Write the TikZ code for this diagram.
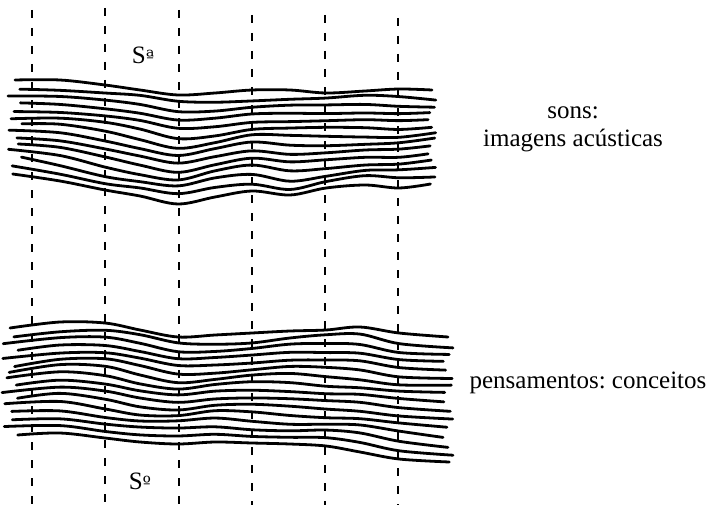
\documentclass[tikz,border=0pt]{standalone}
\usepackage{fontspec}
\setmainfont{Liberation Serif}
\newfontfamily\ordfont{DejaVu Serif}
\frenchspacing
\tikzset{
  cutline/.style={dash pattern=on 4pt off 5pt, line width=1.2pt},
  strand/.style={line width=1.4pt, line cap=round},
  lbl/.style={font=\fontsize{12.5}{14}\selectfont, inner sep=0pt},
}
\begin{document}
\begin{tikzpicture}[x=0.5pt, y=-0.5pt]
\useasboundingbox (0,0) rectangle (710,508);

% cuts
\foreach \cx/\cy in {32/10, 105/8, 179/10, 252/15, 325/15, 398/18}
  \draw[cutline] (\cx,\cy) -- (\cx,505);

% upper mass (sounds)
\def\xk{{15,60,105,140,178,215,252,290,326,365,399,432}}
\def\ya{{80,80,85,90,95,93,90,90,93,91,89,90}}
\def\yb{{174,181,190,196,204,197,191,195,188,185,188,184}}
\foreach \i in {0,...,13}
  \draw[strand] plot[smooth, tension=0.55, samples at={0,...,11}, variable=\k]
    ({\xk[int(\k)] + (int(\k)==0)*7*sin(\i*137) + (int(\k)==11)*4*sin(\i*71)},
     {\ya[int(\k)] + (\yb[int(\k)]-\ya[int(\k)])*\i/13
      + (2.2*sin(\k*70+\i*25) + 1.0*sin(\i*97+\k*61))*(\i>0)*(\i<13)});

% lower mass (thoughts)
\def\xl{{10,60,105,140,178,215,252,290,326,360,399,448}}
\def\yc{{328,322,323,330,337,335,333,331,330,327,333,337}}
\def\yd{{435,433,438,442,444,442,443,444,446,452,459,462}}
\foreach \i in {0,...,15}
  \draw[strand] plot[smooth, tension=0.55, samples at={0,...,11}, variable=\k]
    ({\xl[int(\k)] + (int(\k)==0)*8*sin(\i*151) + (int(\k)==11)*5*sin(\i*83)},
     {\yc[int(\k)] + (\yd[int(\k)]-\yc[int(\k)])*\i/15
      + (2.0*sin(\k*75+\i*22) + 1.0*sin(\i*89+\k*67))*(\i>0)*(\i<15)});

\node[lbl] (sa)   at (143,55)  {S{\ordfont\fontsize{9}{9}\selectfont ª}};
\node[lbl] (so)   at (140,481) {S{\ordfont\fontsize{9}{9}\selectfont º}};
\node[lbl, align=center] (sons) at (573,129) {sons:\\imagens acústicas};
\node[lbl] (pens) at (588,383) {pensamentos: conceitos};
\end{tikzpicture}
\end{document}
